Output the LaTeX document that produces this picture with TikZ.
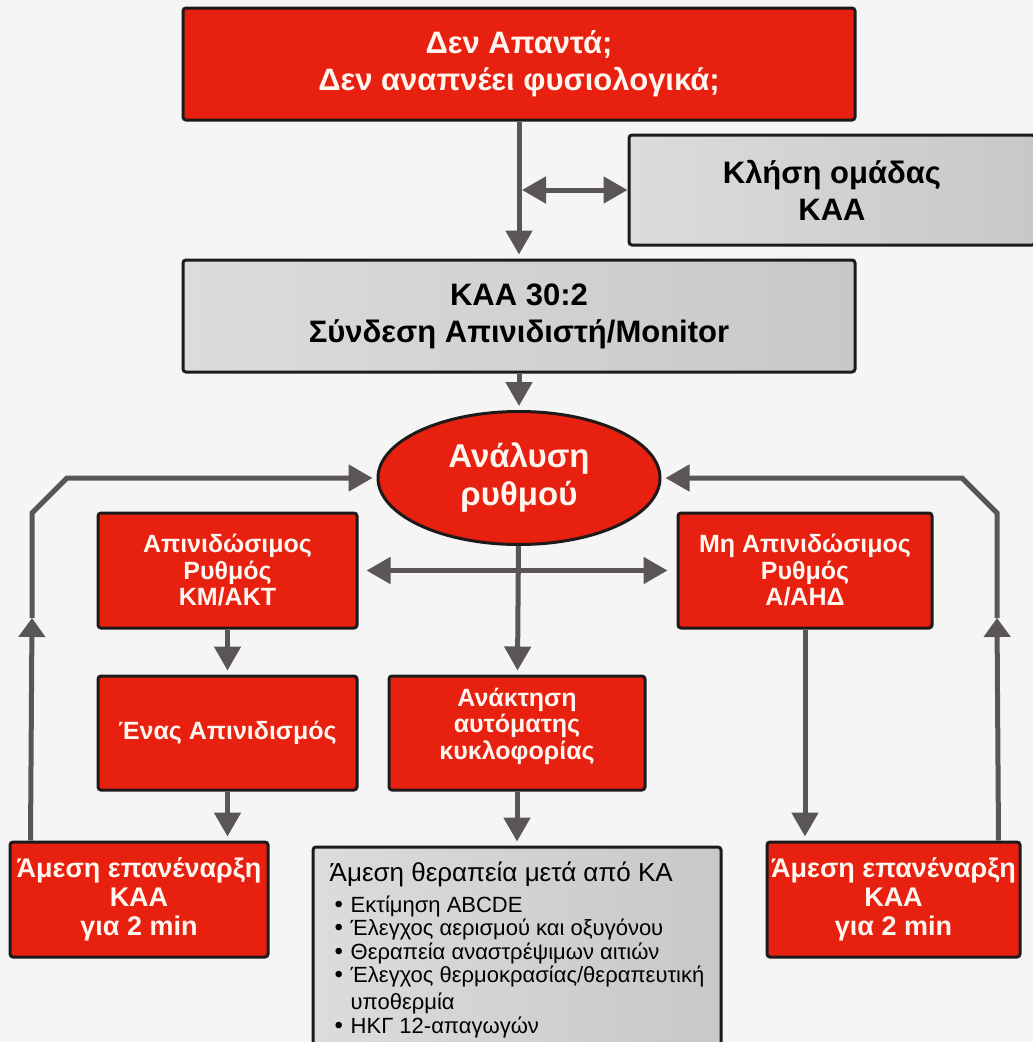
\documentclass[tikz,border=0pt]{standalone}
\usepackage{fontspec}
\setmainfont{Liberation Sans}
\usetikzlibrary{arrows.meta,shapes.geometric,positioning}

\definecolor{alsred}{HTML}{E8200F}
\definecolor{alsgrayL}{HTML}{DCDCDC}
\definecolor{alsgrayR}{HTML}{C8C8C8}
\definecolor{alsline}{HTML}{5A5656}
\definecolor{alsborder}{HTML}{1E1A1A}
\definecolor{alsbg}{HTML}{F5F5F5}
\definecolor{alstext}{HTML}{FFF6F0}

\newcommand{\sizeBig}{\fontsize{31}{37}\selectfont}
\newcommand{\sizeOval}{\fontsize{33}{38}\selectfont}
\newcommand{\sizeMid}{\fontsize{25}{26.5}\selectfont}
\newcommand{\sizeRestart}{\fontsize{27}{29}\selectfont}
\newcommand{\sizeCare}{\fontsize{22}{23.3}\selectfont}
\newcommand{\carebul}{\makebox[21pt][l]{\hspace{5pt}{\fontsize{24}{0}\selectfont •}}}

\tikzset{
  redbox/.style={draw=alsborder, line width=3pt, fill=alsred, rounded corners=3pt,
    text=alstext, align=center, inner sep=0pt},
  graybox/.style={draw=alsborder, line width=3pt, left color=alsgrayL, right color=alsgrayR,
    rounded corners=3pt, text=black, align=center, inner sep=0pt},
  flow/.style={draw=alsline, line width=5pt, ->, shorten >=4pt},
  upflow/.style={draw=alsline, line width=5pt, -{Triangle[length=19pt,width=26pt]}},
}

\begin{document}
\begin{tikzpicture}[x=1pt, y=-1pt, >={Triangle[length=24pt,width=26pt]}]

% page
\path[use as bounding box, fill=alsbg] (0,0) rectangle (1033,1042);
\clip (0,0) rectangle (1033,1042);

% TOP
\node[redbox, minimum width=672pt, minimum height=112pt, font=\bfseries\sizeBig]
  (alarm) at (519,64) {Δεν Απαντά;\\Δεν αναπνέει φυσιολογικά;};
\node[graybox, minimum width=406pt, minimum height=110pt, font=\bfseries\sizeBig]
  (call) at (832,190) {Κλήση ομάδας\\ΚΑΑ};
\node[graybox, minimum width=672pt, minimum height=112pt, font=\bfseries\sizeBig]
  (cpr) at (519,316) {ΚΑΑ 30:2\\Σύνδεση Απινιδιστή/Monitor};

\draw[flow] (alarm) -- (cpr);
\coordinate (callJoin) at (alarm.south |- call.west);
\draw[flow, <->, shorten <=0pt, shorten >=0pt] ([xshift=3pt]callJoin) -- (call.west);

% RHYTHM
\node[redbox, ellipse, minimum width=282pt, minimum height=133pt, font=\bfseries\sizeOval]
  (rhythm) at (519,478) {Ανάλυση\\ρυθμού};
\draw[flow] (cpr) -- (rhythm);

\node[redbox, minimum width=259pt, minimum height=115pt, font=\bfseries\sizeMid]
  (shock) at (227.5,570.5) {Απινιδώσιμος\\Ρυθμός\\ΚΜ/ΑΚΤ};
\node[redbox, minimum width=254pt, minimum height=115pt, font=\bfseries\sizeMid]
  (nonshock) at (805,570.5) {Μη Απινιδώσιμος\\Ρυθμός\\Α/ΑΗΔ};
\draw[flow, <->, shorten <=8pt, shorten >=9pt] (shock.east) -- (nonshock.west);

\node[redbox, minimum width=259pt, minimum height=114pt, font=\bfseries\sizeMid]
  (single) at (227.5,733) {Ένας Απινιδισμός};
\node[redbox, minimum width=256pt, minimum height=114pt, font=\bfseries\sizeMid]
  (rosc) at (517,733) {Ανάκτηση\\αυτόματης\\κυκλοφορίας\\[-8pt]};

\draw[flow] (rhythm) -- (rosc);
\draw[flow] (shock) -- (single);

% BOTTOM
\node[redbox, minimum width=258pt, minimum height=115pt, font=\bfseries\sizeRestart]
  (restartL) at (139,899.5) {Άμεση επανέναρξη\\ΚΑΑ\\για 2 min};
\node[redbox, minimum width=253pt, minimum height=115pt, font=\bfseries\sizeRestart]
  (restartR) at (893.5,899.5) {Άμεση επανέναρξη\\ΚΑΑ\\για 2 min};
\node[graybox, minimum width=408pt, minimum height=220pt] (care) at (517,957) {};
\node[anchor=north west, inner sep=0pt, align=left, font=\sizeCare]
  (careText) at ([xshift=18pt, yshift=-16pt]care.north west)
  {{\fontsize{26}{26}\selectfont Άμεση θεραπεία μετά από ΚΑ}\\[8pt]
   \carebul Εκτίμηση ABCDE\\
   \carebul Έλεγχος αερισμού και οξυγόνου\\
   \carebul Θεραπεία αναστρέψιμων αιτιών\\
   \carebul Έλεγχος θερμοκρασίας/θεραπευτική\\[4pt]
   \hphantom{\carebul}υποθερμία\\
   \carebul ΗΚΓ 12-απαγωγών};

\draw[flow] (single.south) -- (single.south |- restartL.north);
\draw[flow] (rosc) -- (care);
\draw[flow] (nonshock.south) -- (nonshock.south |- restartR.north);

% LOOPS
\coordinate (loopL0) at ([xshift=22pt]restartL.north west);
\coordinate (loopL1) at (32,618);
\coordinate (loopL2) at (32,513);
\coordinate (loopL3) at (67,478);
\draw[upflow] (loopL0) -- (loopL1);
\draw[flow] (loopL1) -- (loopL2) -- (loopL3) -- (rhythm.west);

\coordinate (loopR0) at ([xshift=-23pt]restartR.north east);
\coordinate (loopR1) at (997,618);
\coordinate (loopR2) at (997,513);
\coordinate (loopR3) at (962,478);
\draw[upflow] (loopR0) -- (loopR1);
\draw[flow] (loopR1) -- (loopR2) -- (loopR3) -- (rhythm.east);

\end{tikzpicture}
\end{document}
